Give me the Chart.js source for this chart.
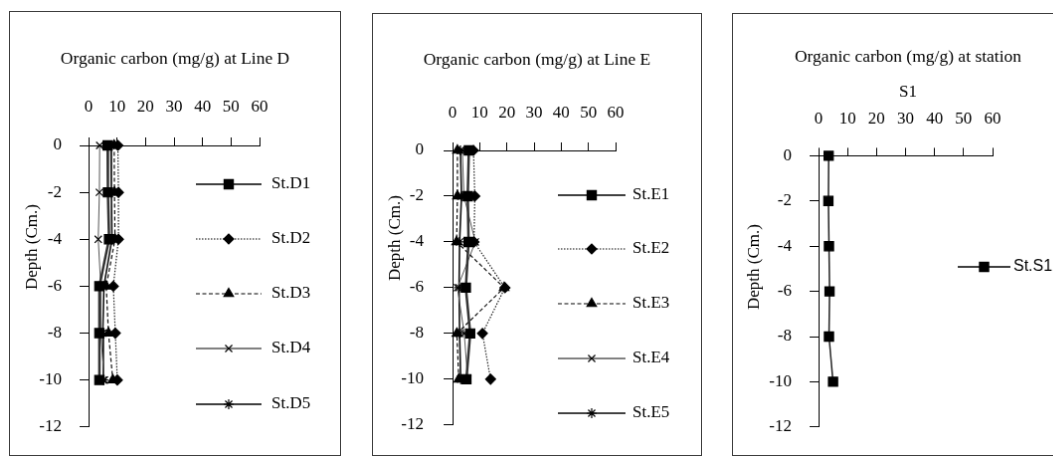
<!DOCTYPE html>
<html>
<head>
<meta charset="utf-8">
<title>Organic carbon profiles</title>
<script src="https://cdn.jsdelivr.net/npm/chart.js@4.4.1/dist/chart.umd.min.js"></script>
<style>
  html, body { margin: 0; padding: 0; background: #fff; overflow: hidden; }
  body { width: 1053px; height: 457px; position: relative; }
  canvas { position: absolute; border: 1px solid #3c3c3c; }
</style>
</head>
<body>
<canvas id="lineD" width="332" height="445" style="left:9px;top:11px"></canvas>
<canvas id="lineE" width="330" height="443" style="left:372px;top:13px"></canvas>
<canvas id="station" width="352" height="443" style="left:732px;top:13px"></canvas>
<script>
// sampling depths (cm) and axis ticks
const depths = [0, -2, -4, -6, -8, -10];
const carbonTicks = [0, 10, 20, 30, 40, 50, 60];
const depthTicks = [0, -2, -4, -6, -8, -10, -12];

// organic carbon (mg/g), Line D
const stD1 = [6.7, 6.8, 7.2, 3.8, 3.8, 3.8];
const stD2 = [10.3, 10.5, 10.5, 8.7, 9.4, 10.1];
const stD3 = [9.0, 9.1, 9.3, 6.2, 7.0, 8.5];
const stD4 = [3.9, 3.8, 3.4, 4.3, 4.2, 5.6];
const stD5 = [7.9, 8.0, 8.2, 5.4, 5.0, 5.2];

// organic carbon (mg/g), Line E
const stE1 = [6.0, 5.6, 5.9, 4.9, 6.5, 5.1];
const stE2 = [7.7, 8.2, 7.9, 19.3, 11.0, 14.0];
const stE3 = [1.8, 1.8, 1.5, 19.0, 1.6, 2.3];
const stE4 = [3.6, 4.2, 8.4, 1.8, 4.3, 5.6];
const stE5 = [2.9, 3.3, 2.6, 2.4, 2.6, 3.0];

// organic carbon (mg/g), station S1
const stS1 = [3.5, 3.4, 3.6, 3.8, 3.6, 5.0];

const SERIF = '"Liberation Serif", "Times New Roman", serif';
Chart.defaults.font.family = SERIF;
Chart.defaults.font.size = 17;
Chart.defaults.color = '#000';

// line / marker looks, shared by both transects
const looks = [
  { marker: 'rect', radius: 6.5, width: 2.5, color: '#333', dash: [] },
  { marker: 'rectRot', radius: 5, width: 1.2, color: '#222', dash: [1.5, 1.5] },
  { marker: 'triangle', radius: 5.5, width: 1.2, color: '#111', dash: [4, 2.5] },
  { marker: 'crossRot', radius: 5, width: 1, color: '#555', dash: [] },
  { marker: 'star', radius: 5, width: 1.6, color: '#111', dash: [] }
];

// legend drawn beside the profiles, inside the frame
const sideLegend = {
  id: 'sideLegend',
  afterDraw(chart, args, opts) {
    const ctx = chart.ctx;
    chart.data.datasets.forEach((ds, i) => {
      const y = opts.rows[i];
      ctx.save();
      ctx.strokeStyle = '#000';
      ctx.lineWidth = Math.min(ds.borderWidth, 1.6);
      ctx.setLineDash(ds.borderDash || []);
      ctx.beginPath();
      ctx.moveTo(opts.x1, y);
      ctx.lineTo(opts.x2, y);
      ctx.stroke();
      ctx.setLineDash([]);
      ctx.fillStyle = '#000';
      ctx.lineWidth = ds.pointBorderWidth;
      Chart.helpers.drawPoint(ctx, {
        pointStyle: ds.pointStyle, radius: ds.pointRadius, rotation: 0, borderWidth: ds.pointBorderWidth
      }, (opts.x1 + opts.x2) / 2, y);
      ctx.font = opts.font;
      ctx.textAlign = 'left';
      ctx.textBaseline = 'middle';
      ctx.fillText(ds.label, opts.textX, y);
      ctx.restore();
    });
  }
};

// rotated depth title, placed freely
const depthTitle = {
  id: 'depthTitle',
  afterDraw(chart, args, opts) {
    const ctx = chart.ctx;
    ctx.save();
    ctx.translate(opts.x, opts.y);
    ctx.rotate(-Math.PI / 2);
    ctx.font = '17px ' + SERIF;
    ctx.fillStyle = '#000';
    ctx.textAlign = 'center';
    ctx.textBaseline = 'middle';
    ctx.fillText('Depth (Cm.)', 0, 0);
    ctx.restore();
  }
};

function depthProfile(id, cfg) {
  const datasets = cfg.series.map((s, i) => {
    const look = s.look || looks[i];
    return {
      label: s.label,
      data: depths.map((d, k) => ({ x: s.values[k], y: d })),
      showLine: true,
      borderColor: look.color,
      borderWidth: look.width,
      borderDash: look.dash,
      pointStyle: look.marker,
      pointRadius: look.radius,
      pointHoverRadius: look.radius,
      pointBackgroundColor: '#000',
      pointBorderColor: '#000',
      pointBorderWidth: 1.2,
      clip: false
    };
  });

  const plugins = {
    legend: { display: false },
    tooltip: { enabled: false },
    title: {
      display: true,
      text: cfg.title,
      font: { size: 17.5, weight: 'normal' },
      color: '#000',
      padding: { top: cfg.titleTop, bottom: 0 }
    },
    sideLegend: cfg.legend,
    depthTitle: cfg.depthTitle
  };
  if (cfg.subtitle) {
    plugins.subtitle = {
      display: true,
      text: cfg.subtitle,
      font: { size: 17 },
      color: '#000',
      padding: { top: cfg.subtitleTop, bottom: 0 }
    };
  }

  return new Chart(document.getElementById(id), {
    type: 'scatter',
    data: { datasets },
    plugins: [sideLegend, depthTitle],
    options: {
      responsive: false,
      animation: false,
      events: [],
      layout: { padding: { left: 0, top: 0, right: 0, bottom: cfg.padBottom } },
      plugins,
      scales: {
        x: {
          type: 'linear',
          position: 'top',
          min: 0,
          max: 60,
          afterBuildTicks: s => { s.ticks = carbonTicks.map(v => ({ value: v })); },
          afterFit: s => { s.height = cfg.xHeight; },
          grid: { drawOnChartArea: false, drawTicks: true, tickLength: 8, color: '#000' },
          border: { color: '#000', width: 1 },
          ticks: { padding: cfg.xPad, color: '#000', maxRotation: 0, autoSkip: false }
        },
        y: {
          type: 'linear',
          min: -12,
          max: 0,
          afterBuildTicks: s => { s.ticks = depthTicks.map(v => ({ value: v })); },
          afterFit: s => { s.width = cfg.yWidth; },
          grid: { drawOnChartArea: false, drawTicks: true, tickLength: 9, color: '#000' },
          border: { color: '#000', width: 1 },
          ticks: { padding: cfg.yPad, color: '#000', autoSkip: false }
        },
        // empty band on the right that holds the legend
        legendBand: {
          type: 'linear',
          position: 'right',
          grid: { display: false, drawTicks: false },
          border: { display: false },
          ticks: { display: false },
          afterFit: s => { s.width = cfg.padRight; }
        }
      }
    }
  });
}

depthProfile('lineD', {
  title: 'Organic carbon (mg/g) at Line D',
  titleTop: 36.5,
  xHeight: 76.5,
  xPad: 20,
  yWidth: 79,
  yPad: 18,
  padRight: 81,
  padBottom: 17,
  series: [
    { label: 'St.D1', values: stD1 },
    { label: 'St.D2', values: stD2 },
    { label: 'St.D3', values: stD3 },
    { label: 'St.D4', values: stD4 },
    { label: 'St.D5', values: stD5 }
  ],
  legend: { x1: 187, x2: 253, textX: 263, rows: [173, 228, 283, 338, 394], font: '17px ' + SERIF },
  depthTitle: { x: 23, y: 236 }
});

depthProfile('lineE', {
  title: 'Organic carbon (mg/g) at Line E',
  titleTop: 35.5,
  xHeight: 80.5,
  xPad: 19,
  yWidth: 80,
  yPad: 20,
  padRight: 86,
  padBottom: 15,
  series: [
    { label: 'St.E1', values: stE1 },
    { label: 'St.E2', values: stE2 },
    { label: 'St.E3', values: stE3 },
    { label: 'St.E4', values: stE4 },
    { label: 'St.E5', values: stE5 }
  ],
  legend: { x1: 186, x2: 254, textX: 261, rows: [182, 236, 291, 346, 401], font: '17px ' + SERIF },
  depthTitle: { x: 23, y: 225 }
});

depthProfile('station', {
  title: 'Organic carbon (mg/g) at station',
  titleTop: 32.5,
  subtitle: 'S1',
  subtitleTop: 15.3,
  xHeight: 53.2,
  xPad: 19,
  yWidth: 86,
  yPad: 18,
  padRight: 91,
  padBottom: 14,
  series: [
    { label: 'St.S1', values: stS1, look: { marker: 'rect', radius: 6.5, width: 1.5, color: '#222', dash: [] } }
  ],
  legend: { x1: 226, x2: 279, textX: 282, rows: [254], font: '16px "Liberation Sans", Arial, sans-serif' },
  depthTitle: { x: 22, y: 254 }
});
</script>
</body>
</html>
